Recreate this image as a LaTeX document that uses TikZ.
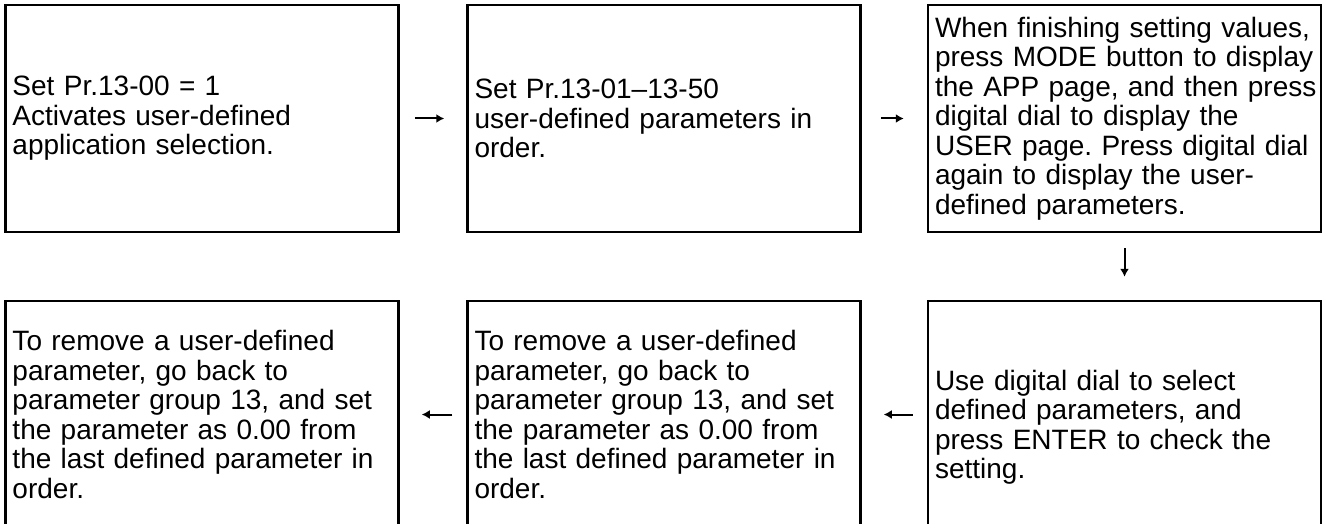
\documentclass[tikz,border=0pt]{standalone}
\usepackage{fontspec}
\setmainfont{Liberation Sans}
\usetikzlibrary{arrows.meta}
\frenchspacing
\begin{document}
\begin{tikzpicture}[x=1pt,y=-1pt,
  box/.style={draw=black, line width=2.5pt, rectangle, minimum width=393pt, minimum height=227pt,
    inner xsep=7pt, inner ysep=0pt, text width=379pt, align=left,
    font=\fontsize{28}{29.5}\selectfont\frenchspacing},
  conn/.style={line width=2pt, -{Latex[length=8pt,width=9pt]}}]
\useasboundingbox (0,0) rectangle (1327,524);
\clip (0,0) rectangle (1327,524);
\node[box] (b1) at (202,118.5) {Set Pr.13-00 = 1\\Activates user-defined\\application selection.};
\node[box] (b2) at (664,118.5) {Set Pr.13-01--13-50\\user-defined parameters in\\order.};
\node[box] (b3) at (1124.5,118.5) {\mbox{When finishing setting values,}\\\mbox{press MODE button to display}\\\mbox{the APP page, and then press}\\\mbox{digital dial to display the}\\\mbox{USER page. Press digital dial}\\\mbox{again to display the user-}\\\mbox{defined parameters.}};
\node[box] (b4) at (202,414.5) {To remove a user-defined\\parameter, go back to\\parameter group 13, and set\\the parameter as 0.00 from\\the last defined parameter in\\order.};
\node[box] (b5) at (664,414.5) {To remove a user-defined\\parameter, go back to\\parameter group 13, and set\\the parameter as 0.00 from\\the last defined parameter in\\order.};
\node[box] (b6) at (1124.5,414.5) {\rule{0pt}{46pt}Use digital dial to select\\defined parameters, and\\press ENTER to check the\\setting.};
\draw[conn, shorten <=15pt, shorten >=22pt] (b1.east) -- (b2.west);
\draw[conn, shorten <=19pt, shorten >=23pt] (b2.east) -- (b3.west);
\draw[conn, shorten <=15pt, shorten >=23pt] (b3.south) -- (b6.north);
\draw[conn, shorten <=14pt, shorten >=22pt] (b6.west) -- (b5.east);
\draw[conn, shorten <=14pt, shorten >=22pt] (b5.west) -- (b4.east);
\end{tikzpicture}
\end{document}
